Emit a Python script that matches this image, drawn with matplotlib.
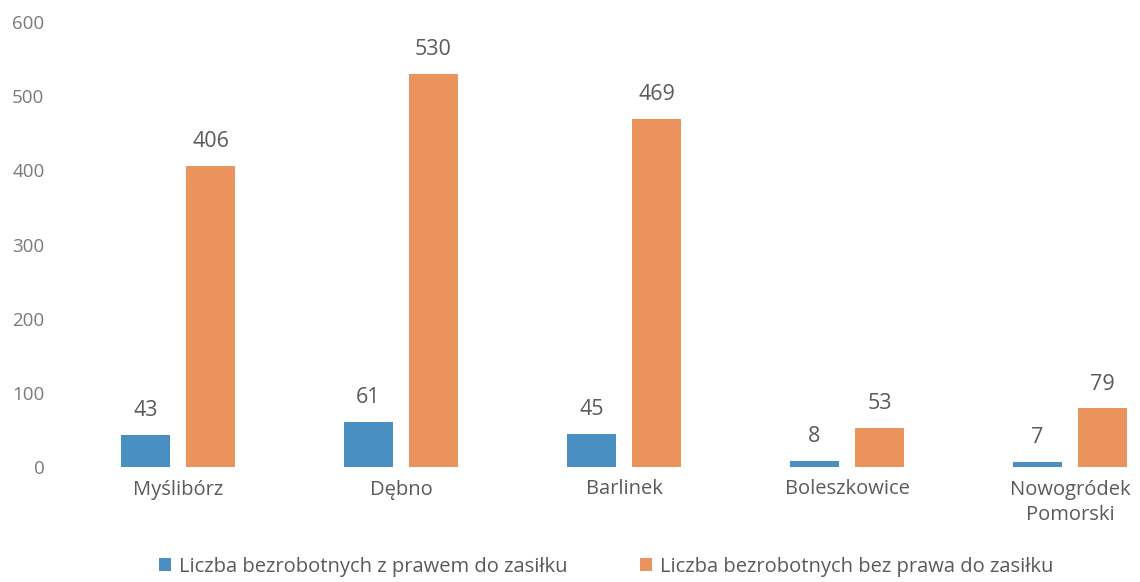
import matplotlib
matplotlib.use("Agg")
import matplotlib.pyplot as plt
import numpy as np

categories = ["Myślibórz", "Dębno", "Barlinek", "Boleszkowice", "Nowogródek\nPomorski"]
z_prawem = [43, 61, 45, 8, 7]
bez_prawa = [406, 530, 469, 53, 79]
series_names = ["Liczba bezrobotnych z prawem do zasiłku",
                "Liczba bezrobotnych bez prawa do zasiłku"]
yticks = [0, 100, 200, 300, 400, 500, 600]

blue = "#4a8fc2"
orange = "#ea935c"
txt = "#5a5a5a"
tick_txt = "#7a7a7a"

plt.rcParams['font.family'] = ['Open Sans', 'DejaVu Sans']

fig = plt.figure(figsize=(11.4, 5.82), dpi=100)
ax = fig.add_axes([50/1140, (582-467)/582, 1 - 50/1140, (467-22)/582])

x = np.arange(len(categories))
w = 0.22
off = 0.146
b1 = ax.bar(x - off, z_prawem, w, color=blue, label=series_names[0])
b2 = ax.bar(x + off, bez_prawa, w, color=orange, label=series_names[1])

for bars, vals in ((b1, z_prawem), (b2, bez_prawa)):
    for r, v in zip(bars, vals):
        ax.annotate(str(v), (r.get_x() + r.get_width()/2, r.get_height()),
                    xytext=(0, 10), textcoords="offset points",
                    ha="center", va="bottom", fontsize=15.5, color=txt)

ax.set_ylim(0, 600)
ax.set_yticks(yticks)
ax.set_xlim(-0.574, 4.314)
ax.set_xticks(x)
ax.set_xticklabels(categories, fontsize=14.5, color=txt, linespacing=1.4)
ax.tick_params(axis='y', labelsize=13.5, labelcolor=tick_txt, length=0, pad=4)
ax.tick_params(axis='x', length=0, pad=9)
for s in ax.spines.values():
    s.set_visible(False)

fig.legend(loc="center", bbox_to_anchor=(0.532, 0.026), ncol=2, frameon=False,
           prop={'size': 14.5}, labelcolor=txt, handlelength=0.6, handleheight=0.6,
           handletextpad=0.4, columnspacing=3.6)

fig.savefig("out.png", dpi=100, facecolor="white")
